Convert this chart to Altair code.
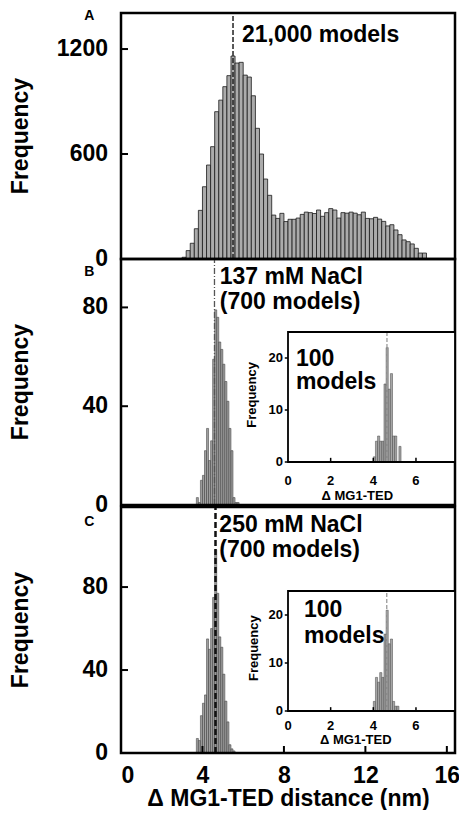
import altair as alt
import pandas as pd

FONT = "Liberation Sans"

# ---------------- data ----------------
# Panel A: 21,000 models, bins of 0.2 nm starting at 3.0 nm
a_start, a_width = 3.0, 0.2
a_counts = [10, 48, 90, 173, 278, 413, 537, 642, 842, 908,
            985, 1048, 1160, 1120, 1124, 1051, 1040, 933, 747, 600,
            457, 364, 251, 232, 261, 214, 227, 227, 234, 255,
            268, 265, 260, 280, 244, 265, 288, 280, 234, 265,
            262, 268, 262, 253, 268, 232, 230, 238, 228, 215,
            189, 196, 166, 139, 109, 99, 86, 61, 34, 34]
a_mark = 5.5

# Panel B: 137 mM NaCl (700 models), bins of 0.1 nm starting at 3.7 nm
b_start, b_width = 3.7, 0.1
b_counts = [3, 1, 10, 12, 22, 31, 18, 26, 59, 79,
            76, 66, 63, 57, 50, 42, 31, 22, 3, 1, 1]
b_mark = 4.59

# Panel C: 250 mM NaCl (700 models)
c_start, c_width = 3.7, 0.1
c_counts = [7, 6, 18, 24, 28, 55, 50, 60, 75, 98,
            77, 56, 51, 38, 25, 15, 4, 2, 1]
c_mark = 4.64

# Insets: 100 models, bins of 0.1 nm starting at 4.0 nm
bi_start, bi_width = 4.0, 0.1
bi_counts = [1, 4, 5, 4, 4, 15, 22, 14, 17, 5, 5, 0, 3]
bi_mark = 4.64
ci_start, ci_width = 4.0, 0.1
ci_counts = [2, 7, 6, 8, 7, 16, 21, 14, 15, 2, 1, 1]
ci_mark = 4.63

main_x_ticks = [0, 4, 8, 12, 16]
a_y_ticks = [0, 600, 1200]
bc_y_ticks = [0, 40, 80]
inset_x_ticks = [0, 2, 4, 6]
inset_y_ticks = [0, 10, 20]


def hist_df(start, width, counts):
    rows = []
    for i, c in enumerate(counts):
        x0 = round(start + i * width, 3)
        rows.append({"x0": x0, "x1": round(x0 + width, 3), "n": c, "z": 0})
    return pd.DataFrame(rows)


W, H = 334, 740
XDOM = [0, 16.4]
IXDOM = [0, 7.83]
IYDOM = [0, 25]
IXRANGE = [167, W]
BOLD = dict(font=FONT, fontWeight="bold", color="black")


def main_panel(df, ydom, yrange, yticks, mark_x, dash_style, label, lab_x, lab_y,
               letter, letter_y, x_axis, bar_fill, bar_stroke, bar_sw):
    xsc = alt.Scale(domain=XDOM, range=[0, W], nice=False, zero=False)
    ysc = alt.Scale(domain=ydom, range=yrange, nice=False, zero=False)
    if x_axis:
        xax = alt.Axis(values=main_x_ticks, title="Δ MG1-TED distance (nm)", format="d",
                       ticks=False, domain=False, grid=False, labelPadding=11,
                       titlePadding=0, labelFontSize=23, titleFontSize=23,
                       labelFont=FONT, titleFont=FONT, labelFontWeight="bold",
                       titleFontWeight="bold", labelColor="black", titleColor="black")
    else:
        xax = None

    def X(f):
        return alt.X(f, scale=xsc, axis=xax)

    def Y(f):
        return alt.Y(f, scale=ysc, axis=None)

    bars = alt.Chart(df).mark_bar(fill=bar_fill, stroke=bar_stroke,
                                  strokeWidth=bar_sw).encode(
        x=X("x0:Q"), x2="x1:Q", y=Y("n:Q"), y2="z:Q")
    line = alt.Chart(pd.DataFrame({"m": [mark_x], "a": [ydom[0]], "b": [ydom[1]]})).mark_rule(
        **dash_style).encode(x=X("m:Q"), y=Y("a:Q"), y2="b:Q")
    txt = alt.Chart(pd.DataFrame({"x": [lab_x], "y": [lab_y], "t": [label]})).mark_text(
        align="left", baseline="alphabetic", fontSize=23, lineBreak="\n",
        lineHeight=25, **BOLD).encode(x=X("x:Q"), y=Y("y:Q"), text="t:N")
    frame_df = pd.DataFrame({"x0": [XDOM[0]], "x1": [XDOM[1]], "y0": [ydom[0]], "y1": [ydom[1]]})
    frame = alt.Chart(frame_df).mark_rect(fillOpacity=0, stroke="black", strokeWidth=2.5).encode(
        x=X("x0:Q"), x2="x1:Q", y=Y("y0:Q"), y2="y1:Q")
    yt = alt.Chart(pd.DataFrame({"v": yticks})).mark_rule(
        color="black", strokeWidth=2).encode(y=Y("v:Q"), x=alt.value(0), x2=alt.value(7))
    ylab = alt.Chart(pd.DataFrame({"v": yticks, "x": [XDOM[0]] * len(yticks),
                                   "t": [str(v) for v in yticks]})).mark_text(
        align="right", baseline="middle", dx=-13, fontSize=23, **BOLD).encode(
        x=X("x:Q"), y=Y("v:Q"), text="t:N")
    ytitle = alt.Chart(pd.DataFrame({"x": [-4.9], "y": [(ydom[0] + ydom[1]) / 2],
                                     "t": ["Frequency"]})).mark_text(
        align="center", baseline="middle", angle=270, fontSize=23, **BOLD).encode(
        x=X("x:Q"), y=Y("y:Q"), text="t:N")
    let = alt.Chart(pd.DataFrame({"x": [-1.55], "y": [letter_y], "t": [letter]})).mark_text(
        align="center", baseline="middle", fontSize=14, **BOLD).encode(
        x=X("x:Q"), y=Y("y:Q"), text="t:N")
    layers = [bars, line, frame, txt, yt, ylab, ytitle, let]
    if x_axis:
        xt = alt.Chart(pd.DataFrame({"v": main_x_ticks[1:]})).mark_rule(
            color="black", strokeWidth=2).encode(
            x=X("v:Q"), y=alt.value(yrange[0]), y2=alt.value(yrange[0] - 7))
        layers.append(xt)
    return alt.layer(*layers)


def inset(df, mark_x, yrange, lab_x, lab_y, lab_lh, xl_dy, xt_pos, yt_x, yt_y):
    xsc = alt.Scale(domain=IXDOM, range=IXRANGE, nice=False, zero=False)
    ysc = alt.Scale(domain=IYDOM, range=yrange, nice=False, zero=False)

    def X(f):
        return alt.X(f, scale=xsc, axis=None)

    def Y(f):
        return alt.Y(f, scale=ysc, axis=None)

    box = pd.DataFrame({"x0": [IXDOM[0]], "x1": [IXDOM[1]], "y0": [IYDOM[0]], "y1": [IYDOM[1]]})
    bg = alt.Chart(box).mark_rect(fill="white", strokeWidth=0).encode(
        x=X("x0:Q"), x2="x1:Q", y=Y("y0:Q"), y2="y1:Q")
    frame = alt.Chart(box).mark_rect(fillOpacity=0, stroke="black", strokeWidth=1.8).encode(
        x=X("x0:Q"), x2="x1:Q", y=Y("y0:Q"), y2="y1:Q")
    bars = alt.Chart(df).mark_bar(fill="#a6a6a6", stroke="#444444", strokeWidth=0.5).encode(
        x=X("x0:Q"), x2="x1:Q", y=Y("n:Q"), y2="z:Q")
    line = alt.Chart(pd.DataFrame({"m": [mark_x], "a": [IYDOM[0]], "b": [IYDOM[1]]})).mark_rule(
        color="#9a9a9a", strokeWidth=1.3, strokeDash=[4, 2]).encode(
        x=X("m:Q"), y=Y("a:Q"), y2="b:Q")
    xtk = alt.Chart(pd.DataFrame({"v": inset_x_ticks[1:], "a": [0] * 3, "b": [0.8] * 3})).mark_rule(
        color="black", strokeWidth=1.5).encode(x=X("v:Q"), y=Y("a:Q"), y2="b:Q")
    xlab = alt.Chart(pd.DataFrame({"v": inset_x_ticks, "y": [0] * 4,
                                   "t": [str(v) for v in inset_x_ticks]})).mark_text(
        fontSize=13, align="center", baseline="top", dy=xl_dy, **BOLD).encode(
        x=X("v:Q"), y=Y("y:Q"), text="t:N")
    ytk = alt.Chart(pd.DataFrame({"v": inset_y_ticks, "a": [-0.15] * 3, "b": [0] * 3})).mark_rule(
        color="black", strokeWidth=1.5).encode(y=Y("v:Q"), x=X("a:Q"), x2="b:Q")
    ylab = alt.Chart(pd.DataFrame({"v": inset_y_ticks, "x": [0] * 3,
                                   "t": [str(v) for v in inset_y_ticks]})).mark_text(
        fontSize=13, align="right", baseline="middle", dx=-5, **BOLD).encode(
        y=Y("v:Q"), x=X("x:Q"), text="t:N")
    xtitle = alt.Chart(pd.DataFrame({"x": [xt_pos[0]], "y": [0], "t": ["Δ MG1-TED"]})).mark_text(
        fontSize=13, align="center", baseline="top", dy=xt_pos[1], **BOLD).encode(
        x=X("x:Q"), y=Y("y:Q"), text="t:N")
    ytitle = alt.Chart(pd.DataFrame({"x": [yt_x], "y": [yt_y], "t": ["Frequency"]})).mark_text(
        fontSize=13, align="center", baseline="middle", angle=270, **BOLD).encode(
        x=X("x:Q"), y=Y("y:Q"), text="t:N")
    ann = alt.Chart(pd.DataFrame({"x": [lab_x], "y": [lab_y], "t": ["100\nmodels"]})).mark_text(
        fontSize=23, align="left", baseline="alphabetic", lineBreak="\n",
        lineHeight=lab_lh, **BOLD).encode(x=X("x:Q"), y=Y("y:Q"), text="t:N")
    return alt.layer(bg, bars, line, frame, xtk, xlab, ytk, ylab, xtitle, ytitle, ann)


dfA = hist_df(a_start, a_width, a_counts)
dfB = hist_df(b_start, b_width, b_counts)
dfC = hist_df(c_start, c_width, c_counts)
dfBi = hist_df(bi_start, bi_width, bi_counts)
dfCi = hist_df(ci_start, ci_width, ci_counts)

pA = main_panel(dfA, [0, 1406], [246, 0], a_y_ticks, a_mark,
                dict(color="#222222", strokeWidth=1.5, strokeDash=[5, 2]),
                "21,000 models", 5.94, 1238, "A", 1389, False,
                "#ababab", "#1a1a1a", 0.8)

pB = main_panel(dfB, [0, 99.6], [492, 246], bc_y_ticks, b_mark,
                dict(color="#555555", strokeWidth=1.3, strokeDash=[6, 2, 1, 2]),
                "137 mM NaCl\n(700 models)", 4.85, 89.3, "B", 94.5, False,
                "#a0a0a0", "#333333", 0.5)
insB = inset(dfBi, bi_mark, [449, 319], 0.37, 18.5, 23, 13, (3.25, 28), -1.69, 12.9)

pC = main_panel(dfC, [0, 118.6], [740, 494], bc_y_ticks, c_mark,
                dict(color="#111111", strokeWidth=2.5, strokeDash=[6, 3]),
                "250 mM NaCl\n(700 models)", 4.83, 106.5, "C", 111.5, True,
                "#a0a0a0", "#333333", 0.5)
insC = inset(dfCi, ci_mark, [698, 578], 0.75, 19.6, 26, 9, (3.18, 23), -1.58, 13.1)

chart = alt.layer(pA, pB, insB, pC, insC).resolve_scale(
    x="independent", y="independent"
).properties(
    width=W, height=H,
    autosize=alt.AutoSizeParams(type="none"),
    padding={"left": 113, "top": 5, "right": 4, "bottom": 57},
).configure(background="white").configure_view(stroke=None)

chart.save("out.html", embed_options={"renderer": "svg", "actions": False})
